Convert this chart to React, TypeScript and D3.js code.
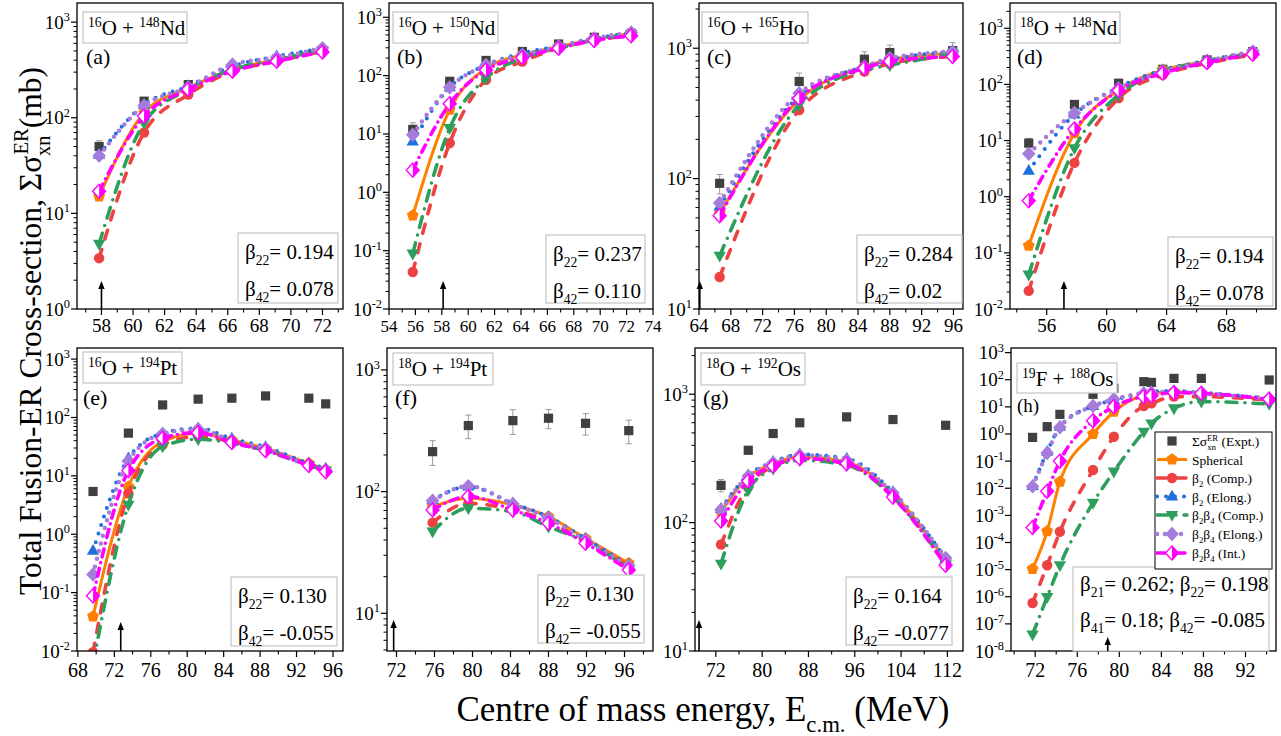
import React from 'react';
import * as d3 from 'd3';

const FONT = '"Liberation Serif", "Times New Roman", Times, serif';

// ===== (a) 16O + 148Nd =====
const energyA = [57.85, 60.7, 63.5, 66.3, 69.1, 72.0];
const exptA = [50, 149, 222, 325, 410, 505];
const errA = [0.15, 0.08, 0.06, 0.06, 0.06, 0.06];
const sphA = [15, 113, 205, 318, 405, 510];
const b2cA = [3.4, 70, 175, 305, 390, 495];
const b2eA = [41, 137, 214, 345, 440, 530];
const b24cA = [4.8, 88, 198, 318, 405, 510];
const b24eA = [40, 134, 208, 360, 425, 535];
const b24iA = [17, 104, 198, 307, 390, 487];

// ===== (b) 16O + 150Nd =====
const energyB = [55.8, 58.6, 61.35, 64.1, 66.85, 69.55, 72.35];
const exptB = [12, 80, 182, 259, 348, 454, 533];
const errB = [0.3, 0.12, 0.08, 0.08, 0.06, 0.06, 0.06];
const sphB = [0.4, 26, 134, 226, 316, 418, 530];
const b2cB = [0.043, 7.0, 85, 174, 295, 400, 500];
const b2eB = [7.4, 63, 152, 242, 322, 436, 533];
const b24cB = [0.089, 12.6, 90, 200, 295, 406, 515];
const b24eB = [9.7, 63, 152, 226, 316, 436, 550];
const b24iB = [2.4, 33, 125, 204, 295, 400, 481];

// ===== (c) 16O + 165Ho =====
const energyC = [66.6, 76.6, 84.8, 88.0, 95.9];
const exptC = [92, 556, 824, 927, 960];
const errC = [0.17, 0.16, 0.14, 0.14, 0.15];
const sphC = [54, 402, 724, 815, 914];
const b2cC = [17.6, 336, 662, 760, 863];
const b2eC = [61, 427, 724, 815, 942];
const b24cC = [25.6, 368, 682, 741, 914];
const b24eC = [65, 452, 724, 837, 942];
const b24iC = [52, 414, 703, 794, 863];

// ===== (d) 18O + 148Nd =====
const energyD = [54.8, 57.85, 60.8, 63.75, 66.7, 69.75];
const exptD = [9.0, 44, 105, 186, 273, 385];
const errD = [0.22, 0.1, 0.08, 0.06, 0.06, 0.06];
const sphD = [0.134, 13.5, 80, 181, 259, 359];
const b2cD = [0.021, 4.0, 57, 148, 238, 335];
const b2eD = [2.9, 29, 89, 181, 265, 385];
const b24cD = [0.041, 7.3, 65, 168, 259, 359];
const b24eD = [5.8, 31, 85, 168, 262, 385];
const b24iD = [0.85, 16, 78, 158, 245, 344];

// ===== (e) 16O + 194Pt =====
const energyE = [69.66, 73.54, 77.3, 81.2, 84.9, 88.6, 93.35, 95.2];
const exptE = [5.4, 54, 164, 206, 214, 234, 214, 171];
const errE = [0.12, 0.1, 0.08, 0.08, 0.08, 0.08, 0.08, 0.08];
const sphE = [0.039, 6.5, 38.6, 53.7, 41.3, 29.6, 16.4, 12.9];
const b2cE = [0.0095, 5.0, 33.9, 47, 38.6, 27.8, 15.4, 12.3];
const b2eE = [0.52, 20, 53.7, 65.5, 43.6, 31.3, 16.4, 13.4];
const b24cE = [0.006, 3.2, 31.8, 42.4, 36.3, 27, 15, 12.3];
const b24eE = [0.204, 18, 52.4, 63, 39.8, 29.6, 15.4, 12.6];
const b24iE = [0.088, 12.3, 44, 55, 37.2, 27, 15, 11.8];

// ===== (f) 18O + 194Pt =====
const energyF = [75.8, 79.56, 84.25, 88.0, 91.9, 96.45];
const exptF = [213, 349, 383, 401, 364, 317];
const errF = [0.23, 0.22, 0.23, 0.18, 0.2, 0.22];
const sphF = [75, 88, 77.6, 62.3, 41.3, 25.8];
const b2cF = [55.6, 80, 70.7, 56.7, 38.8, 24.2];
const b2eF = [85, 110, 80, 62, 41, 25];
const b24cF = [47, 73, 68.5, 51.5, 38.8, 23.4];
const b24eF = [84, 111, 79, 60.4, 40, 24.5];
const b24iF = [70.7, 91, 70.7, 55, 37.6, 22.7];

// ===== (g) 18O + 192Os =====
const energyG = [72.9, 77.6, 81.9, 86.5, 94.6, 102.6, 111.7];
const exptG = [195, 366, 494, 599, 666, 635, 573];
const errG = [0.11, 0.06, 0.05, 0.05, 0.05, 0.05, 0.05];
const sphG = [121, 227, 288, 326, 297, 168, 50.8];
const b2cG = [67.5, 195, 272, 316, 288, 158, 47.9];
const b2eG = [128, 234, 297, 340, 316, 173, 52.5];
const b24cG = [47.9, 179, 263, 306, 280, 158, 47.9];
const b24eG = [126, 230, 292, 335, 306, 170, 53];
const b24iG = [103, 211, 276, 316, 288, 158, 46.5];

// ===== (h) 19F + 188Os =====
const energyH = [71.75, 73.14, 74.35, 77.5, 79.48, 82.33, 83.06, 85.2, 87.8, 94.25];
const exptH = [0.75, 1.86, 5.3, 29, 48, 85, 80, 112, 112, 98];
const errH = [0.1, 0.1, 0.1, 0.1, 0.1, 0.1, 0.1, 0.1, 0.1, 0.1];
const sphH = [1.06e-5, 2.6e-4, 0.0173, 1.0, 6.6, 27.4, 31.6, 36.3, 31.6, 19];
const b2cH = [5.9e-7, 1.45e-5, 2.5e-4, 0.047, 0.79, 10.7, 13.5, 23.8, 23.8, 17.9];
const b2eH = [0.012, 0.22, 1.86, 10.7, 17.9, 31.6, 36.3, 38.5, 33.4, 20.4];
const b24cH = [4.1e-8, 9.8e-7, 1.45e-5, 2.9e-3, 0.041, 1.21, 2.46, 8.8, 15.6, 12.7];
const b24eH = [0.0117, 0.2, 1.75, 10.7, 19, 31.6, 33.4, 36.3, 31.6, 20.4];
const b24iH = [3.6e-4, 7.8e-3, 0.1, 3.1, 10.2, 23.8, 26, 33.4, 31.6, 19];

// ===== tick labels =====
const xTicksA = [58, 60, 62, 64, 66, 68, 70, 72];
const xTicksB = [54, 56, 58, 60, 62, 64, 66, 68, 70, 72, 74];
const xTicksC = [64, 68, 72, 76, 80, 84, 88, 92, 96];
const xTicksD = [56, 60, 64, 68];
const xTicksE = [68, 72, 76, 80, 84, 88, 92, 96];
const xTicksF = [72, 76, 80, 84, 88, 92, 96];
const xTicksG = [72, 80, 88, 96, 104, 112];
const xTicksH = [72, 76, 80, 84, 88, 92];
const yExpA = [0, 1, 2, 3];
const yExpB = [-2, -1, 0, 1, 2, 3];
const yExpC = [1, 2, 3];
const yExpD = [-2, -1, 0, 1, 2, 3];
const yExpE = [-2, -1, 0, 1, 2, 3];
const yExpF = [1, 2, 3];
const yExpG = [1, 2, 3];
const yExpH = [-8, -7, -6, -5, -4, -3, -2, -1, 0, 1, 2, 3];

// Coulomb-barrier arrows (MeV)
const arrowE = { a: 58.0, b: 58.1, c: 64.1, d: 57.15, e: 72.7, f: 71.7, g: 69.1, h: 78.9 };

const reactions = {
  a: ['16', 'O', '148', 'Nd'], b: ['16', 'O', '150', 'Nd'], c: ['16', 'O', '165', 'Ho'], d: ['18', 'O', '148', 'Nd'],
  e: ['16', 'O', '194', 'Pt'], f: ['18', 'O', '194', 'Pt'], g: ['18', 'O', '192', 'Os'], h: ['19', 'F', '188', 'Os'],
};

const betaText = {
  a: [['22', '0.194'], ['42', '0.078']],
  b: [['22', '0.237'], ['42', '0.110']],
  c: [['22', '0.284'], ['42', '0.02']],
  d: [['22', '0.194'], ['42', '0.078']],
  e: [['22', '0.130'], ['42', '-0.055']],
  f: [['22', '0.130'], ['42', '-0.055']],
  g: [['22', '0.164'], ['42', '-0.077']],
};
const betaTextH = [
  [['21', '0.262; '], ['22', '0.198']],
  [['41', '0.18; '], ['42', ' -0.085']],
];

const legendLabels = ['Spherical', 'β2 (Comp.)', 'β2 (Elong.)', 'β2β4 (Comp.)', 'β2β4 (Elong.)', 'β2β4 (Int.)'];

// ===== styles =====
const SERIES_STYLE = [
  { color: '#FF8000', dash: undefined, width: 3, marker: 'pentagon' },
  { color: '#EE4242', dash: '9,11', width: 3.6, marker: 'circle' },
  { color: '#1F6FDB', dash: '0,9', width: 4, marker: 'up' },
  { color: '#2E9E5C', dash: '11,8,0,8', width: 3.6, marker: 'down' },
  { color: '#A57CDC', dash: '0,8', width: 4.5, marker: 'diamond' },
  { color: '#FF00FF', dash: '8,6,0,6', width: 3.6, marker: 'half' },
];
const EXPT_COLOR = '#404040';

type Layout = { xr: [number, number]; yr: [number, number]; xd: [number, number]; yd: [number, number]; minor: number;
  box: [number, number, number, number]; letter: [number, number, number]; beta: [number, number, number, number]; arrowLen: number; tickFont: number; labelDy: number };

const LAYOUTS: Record<string, Layout> = {
  a: { xr: [77, 343], yr: [3, 309], xd: [56.45, 73.3], yd: [1, 1585], minor: 1, box: [83, 12, 104, 31], letter: [86, 64, 22], beta: [238, 233, 100, 70], arrowLen: 28, tickFont: 19, labelDy: 23 },
  b: { xr: [389, 653], yr: [3, 309], xd: [54, 74], yd: [0.01, 1758], minor: 1, box: [393, 12, 105, 31], letter: [397, 64, 22], beta: [546, 235, 99, 68], arrowLen: 28, tickFont: 17, labelDy: 23 },
  c: { xr: [699, 963], yr: [3, 309], xd: [64, 97.2], yd: [10, 2223], minor: 2, box: [702, 12, 106, 31], letter: [707, 64, 22], beta: [857, 235, 105, 68], arrowLen: 28, tickFont: 19, labelDy: 23 },
  d: { xr: [1010, 1276], yr: [3, 309], xd: [53.55, 71.3], yd: [0.01, 2818], minor: 2, box: [1015, 12, 105, 31], letter: [1017, 64, 22], beta: [1168, 237, 105, 69], arrowLen: 28, tickFont: 19, labelDy: 23 },
  e: { xr: [77, 343], yr: [348, 651], xd: [67.9, 97.1], yd: [0.01, 1549], minor: 2, box: [83, 352, 99, 31], letter: [83, 405, 22], beta: [231, 577, 106, 69], arrowLen: 29, tickFont: 20, labelDy: 26 },
  f: { xr: [387, 653], yr: [348, 651], xd: [71, 99], yd: [4.9, 1514], minor: 2, box: [393, 353, 100, 32], letter: [395, 405, 22], beta: [538, 575, 106, 68], arrowLen: 31, tickFont: 20, labelDy: 26 },
  g: { xr: [695, 963], yr: [348, 651], xd: [68.4, 114.7], yd: [10, 2291], minor: 4, box: [701, 353, 104, 32], letter: [703, 405, 22], beta: [846, 577, 106, 68], arrowLen: 31, tickFont: 20, labelDy: 26 },
  h: { xr: [1011, 1276], yr: [348, 651], xd: [69.7, 94.9], yd: [1e-8, 1479], minor: 2, box: [1017, 363, 100, 30], letter: [1017, 412, 19], beta: [1073, 567, 196, 84], arrowLen: 14, tickFont: 20, labelDy: 26 },
};

const PANELS = [
  { id: 'a', E: energyA, expt: exptA, err: errA, series: [sphA, b2cA, b2eA, b24cA, b24eA, b24iA], xTicks: xTicksA, yExp: yExpA },
  { id: 'b', E: energyB, expt: exptB, err: errB, series: [sphB, b2cB, b2eB, b24cB, b24eB, b24iB], xTicks: xTicksB, yExp: yExpB },
  { id: 'c', E: energyC, expt: exptC, err: errC, series: [sphC, b2cC, b2eC, b24cC, b24eC, b24iC], xTicks: xTicksC, yExp: yExpC },
  { id: 'd', E: energyD, expt: exptD, err: errD, series: [sphD, b2cD, b2eD, b24cD, b24eD, b24iD], xTicks: xTicksD, yExp: yExpD },
  { id: 'e', E: energyE, expt: exptE, err: errE, series: [sphE, b2cE, b2eE, b24cE, b24eE, b24iE], xTicks: xTicksE, yExp: yExpE },
  { id: 'f', E: energyF, expt: exptF, err: errF, series: [sphF, b2cF, b2eF, b24cF, b24eF, b24iF], xTicks: xTicksF, yExp: yExpF },
  { id: 'g', E: energyG, expt: exptG, err: errG, series: [sphG, b2cG, b2eG, b24cG, b24eG, b24iG], xTicks: xTicksG, yExp: yExpG },
  { id: 'h', E: energyH, expt: exptH, err: errH, series: [sphH, b2cH, b2eH, b24cH, b24eH, b24iH], xTicks: xTicksH, yExp: yExpH },
];

type Part = [string, string?, number?];

function Rich({ x, y, size, parts, anchor = 'start', transform }: any) {
  let cur = 0;
  return (
    <text x={x} y={y} fontSize={size} textAnchor={anchor} fontFamily={FONT} fill="#000" transform={transform}>
      {parts.map((p: Part, i: number) => {
        const t = p[0];
        const k = p[1] || '';
        const dx = p[2] || 0;
        const target = k === 'sup' ? -0.4 * size : k === 'sub' ? 0.3 * size : 0;
        const dy = target - cur;
        cur = target;
        return (
          <tspan key={i} dy={dy} dx={dx} fontSize={k ? size * 0.65 : size}>
            {t}
          </tspan>
        );
      })}
    </text>
  );
}

const pent = d3.range(5).map((k) => {
  const a = -Math.PI / 2 + (k * 2 * Math.PI) / 5;
  return [6.2 * Math.cos(a), 6.2 * Math.sin(a)];
});

function markerD(kind: string): string {
  switch (kind) {
    case 'square': return 'M-4.6,-4.6H4.6V4.6H-4.6Z';
    case 'circle': return 'M5.2,0A5.2,5.2 0 1,1 -5.2,0A5.2,5.2 0 1,1 5.2,0Z';
    case 'up': return 'M0,-6.8L6.2,4L-6.2,4Z';
    case 'down': return 'M0,6.8L6.2,-4L-6.2,-4Z';
    case 'diamond': return 'M0,-7.2L6.8,0L0,7.2L-6.8,0Z';
    case 'pentagon': return 'M' + pent.map((p) => p.join(',')).join('L') + 'Z';
    default: return 'M0,-7L6.5,0L0,7L-6.5,0Z';
  }
}

function Marker({ kind, color, x, y }: any) {
  if (kind === 'half') {
    return (
      <g transform={`translate(${x},${y})`}>
        <path d="M0,-7L6.5,0L0,7L-6.5,0Z" fill="#fff" stroke={color} strokeWidth={1.4} />
        <path d="M0,-7L6.5,0L0,7Z" fill={color} />
      </g>
    );
  }
  return <path transform={`translate(${x},${y})`} d={markerD(kind)} fill={color} />;
}

function PanelView({ p }: any) {
  const L: Layout = LAYOUTS[p.id];
  const xs = d3.scaleLinear().domain(L.xd).range(L.xr);
  const ys = d3.scaleLog().domain(L.yd).range([L.yr[1], L.yr[0]]);
  const [x0, x1] = L.xr;
  const [y0, y1] = L.yr;
  const clipId = `clip-${p.id}`;
  const minors = d3
    .range(Math.ceil(L.xd[0] / L.minor - 1e-9) * L.minor, L.xd[1] + 1e-9, L.minor)
    .filter((v) => !p.xTicks.some((t: number) => Math.abs(t - v) < 1e-6));
  const yMinor: number[] = [];
  if (p.id !== 'h') {
    const e0 = Math.floor(Math.log10(L.yd[0]));
    const e1 = Math.ceil(Math.log10(L.yd[1]));
    for (let e = e0; e <= e1; e++)
      for (let k = 2; k <= 9; k++) {
        const v = k * Math.pow(10, e);
        if (v >= L.yd[0] && v <= L.yd[1]) yMinor.push(v);
      }
  }
  const line = d3
    .line<number>()
    .x((_, i) => xs(p.E[i]))
    .y((v) => ys(v))
    .curve(d3.curveMonotoneX);
  const rx = reactions[p.id as keyof typeof reactions];
  const [bx, by, bw, bh] = L.box;
  const [tx, ty, tw, th] = L.beta;
  const ax = xs(arrowE[p.id as keyof typeof arrowE]);
  const yl = ys.domain()[0];
  return (
    <g>
      <defs>
        <clipPath id={clipId}>
          <rect x={x0} y={y0} width={x1 - x0} height={y1 - y0} />
        </clipPath>
      </defs>
      <rect x={x0} y={y0} width={x1 - x0} height={y1 - y0} fill="#fff" />
      <g clipPath={`url(#${clipId})`}>
        {p.expt.map((v: number, i: number) => {
          const cx = xs(p.E[i]);
          const lo = ys(v * (1 - p.err[i]));
          const hi = ys(v * (1 + p.err[i]));
          return (
            <g key={'e' + i}>
              <line x1={cx} x2={cx} y1={lo} y2={hi} stroke="#9a9a9a" strokeWidth={1} />
              <line x1={cx - 3} x2={cx + 3} y1={lo} y2={lo} stroke="#9a9a9a" strokeWidth={1} />
              <line x1={cx - 3} x2={cx + 3} y1={hi} y2={hi} stroke="#9a9a9a" strokeWidth={1} />
              <Marker kind="square" color={EXPT_COLOR} x={cx} y={ys(v)} />
            </g>
          );
        })}
        {p.series.map((vals: number[], si: number) => {
          const st = SERIES_STYLE[si];
          return (
            <g key={'s' + si}>
              <path d={line(vals) || ''} fill="none" stroke={st.color} strokeWidth={st.width}
                strokeDasharray={st.dash} strokeLinecap={st.dash ? 'round' : 'butt'} strokeLinejoin="round" />
              {vals.map((v, i) => (
                <Marker key={i} kind={st.marker} color={st.color} x={xs(p.E[i])} y={ys(v)} />
              ))}
            </g>
          );
        })}
      </g>
      <rect x={x0} y={y0} width={x1 - x0} height={y1 - y0} fill="none" stroke="#000" strokeWidth={1.3} />
      {p.xTicks.map((t: number) => (
        <g key={'xt' + t}>
          <line x1={xs(t)} x2={xs(t)} y1={y1} y2={y1 + 6} stroke="#000" strokeWidth={1.2} />
          <text x={xs(t)} y={y1 + L.labelDy} fontSize={L.tickFont} textAnchor="middle" fontFamily={FONT}>{t}</text>
        </g>
      ))}
      {minors.map((t: number) => (
        <line key={'xm' + t} x1={xs(t)} x2={xs(t)} y1={y1} y2={y1 + 3.5} stroke="#000" strokeWidth={1.1} />
      ))}
      {p.yExp.map((e: number) => {
        const yy = ys(Math.pow(10, e));
        return (
          <g key={'yt' + e}>
            <line x1={x0 - 6} x2={x0} y1={yy} y2={yy} stroke="#000" strokeWidth={1.2} />
            <Rich x={x0 - 7} y={yy + 6.5} size={19} anchor="end" parts={[['10'], [String(e), 'sup']]} />
          </g>
        );
      })}
      {yMinor.map((v, i) => (
        <line key={'ym' + i} x1={x0 - 3.5} x2={x0} y1={ys(v)} y2={ys(v)} stroke="#000" strokeWidth={1} />
      ))}
      <rect x={bx} y={by} width={bw} height={bh} fill="#fff" stroke="#c4c4c4" strokeWidth={1.2} />
      <Rich x={bx + 5} y={by + 23} size={21} parts={[[rx[0], 'sup'], [rx[1] + ' + '], [rx[2], 'sup'], [rx[3]]]} />
      <text x={L.letter[0]} y={L.letter[1]} fontSize={L.letter[2]} fontFamily={FONT}>({p.id})</text>
      <rect x={tx} y={ty} width={tw} height={th} fill="#fff" stroke="#c4c4c4" strokeWidth={1.2} />
      {p.id !== 'h'
        ? betaText[p.id as keyof typeof betaText].map((b, i) => (
            <Rich key={i} x={tx + 7} y={ty + 26 + i * 37} size={21} parts={[['β'], [b[0], 'sub'], ['= ' + b[1]]]} />
          ))
        : betaTextH.map((row, i) => (
            <Rich key={i} x={tx + 7} y={ty + 24 + i * 36} size={21}
              parts={[['β'], [row[0][0], 'sub'], ['= ' + row[0][1]], ['β'], [row[1][0], 'sub'], ['= ' + row[1][1]]]} />
          ))}
      <line x1={ax} x2={ax} y1={ys(yl)} y2={ys(yl) - L.arrowLen + 6} stroke="#000" strokeWidth={1.6} />
      <path d={`M${ax},${ys(yl) - L.arrowLen}L${ax - 3.2},${ys(yl) - L.arrowLen + 8}L${ax + 3.2},${ys(yl) - L.arrowLen + 8}Z`} fill="#000" />
    </g>
  );
}

function Legend() {
  const lx = 1155, ly = 432, lw = 117, lh = 137;
  const rows = [441, 459.5, 478, 496.5, 515, 534, 553];
  const sx0 = 1157, sx1 = 1187, mx = 1172, tx = 1192;
  return (
    <g>
      <rect x={lx} y={ly} width={lw} height={lh} fill="#fff" stroke="#000" strokeWidth={1} />
      <Marker kind="square" color={EXPT_COLOR} x={mx} y={rows[0]} />
      <Rich x={tx} y={rows[0] + 5} size={13.5} parts={[['Σσ'], ['xn', 'sub'], ['ER', 'sup', -9], [' (Expt.)']]} />
      {legendLabels.map((lab, i) => {
        const st = SERIES_STYLE[i];
        const y = rows[i + 1];
        const parts: Part[] = [];
        const m = lab.match(/^(β2)(β4)? (.*)$/);
        if (m) {
          parts.push(['β'], ['2', 'sub']);
          if (m[2]) parts.push(['β'], ['4', 'sub']);
          parts.push([' ' + m[3]]);
        } else parts.push([lab]);
        return (
          <g key={i}>
            <line x1={sx0} x2={sx1} y1={y} y2={y} stroke={st.color} strokeWidth={st.width}
              strokeDasharray={st.dash} strokeLinecap={st.dash ? 'round' : 'butt'} />
            <Marker kind={st.marker} color={st.color} x={mx} y={y} />
            <Rich x={tx} y={y + 5} size={13.5} parts={parts} />
          </g>
        );
      })}
    </g>
  );
}

export default function App() {
  return (
    <svg width={1281} height={736} viewBox="0 0 1281 736"
      style={{ position: 'absolute', left: 0, top: 0, background: '#fff', display: 'block' }}>
      <rect x={0} y={0} width={1281} height={736} fill="#fff" />
      {PANELS.map((p) => (
        <PanelView key={p.id} p={p} />
      ))}
      <Legend />
      <Rich x={0} y={0} size={31.5} anchor="middle" transform="translate(41,331) rotate(-90)"
        parts={[['Total Fusion-ER Cross-section, Σσ'], ['xn', 'sub'], ['ER', 'sup', -19], ['(mb)']]} />
      <Rich x={703} y={721} size={35} anchor="middle"
        parts={[['Centre of mass energy, E'], ['c.m.', 'sub'], [' (MeV)']]} />
    </svg>
  );
}
